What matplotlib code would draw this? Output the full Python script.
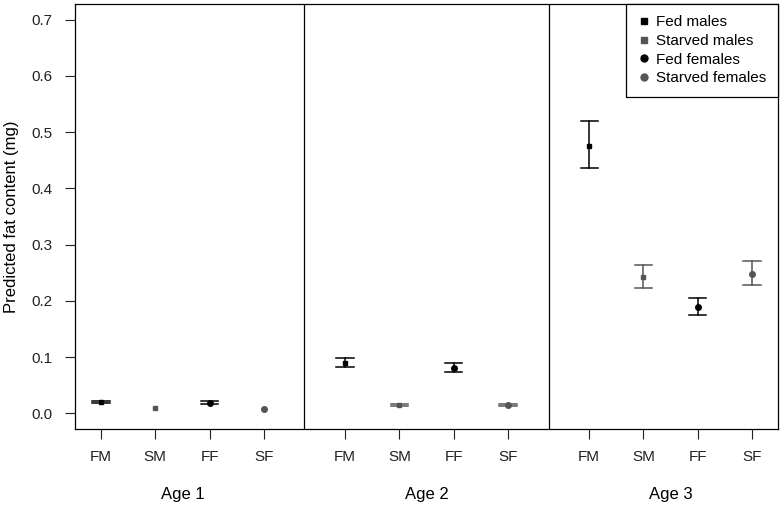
import matplotlib
matplotlib.use('Agg')
import matplotlib.pyplot as plt
from matplotlib.lines import Line2D

# data
ages = ['Age 1', 'Age 2', 'Age 3']
groups = ['FM', 'SM', 'FF', 'SF']
group_names = ['Fed males', 'Starved males', 'Fed females', 'Starved females']

fm_mean = [0.020, 0.090, 0.476]
fm_low = [0.018, 0.083, 0.436]
fm_high = [0.022, 0.099, 0.519]

sm_mean = [0.009, 0.015, 0.242]
sm_low = [0.009, 0.013, 0.222]
sm_high = [0.009, 0.017, 0.264]

ff_mean = [0.019, 0.081, 0.189]
ff_low = [0.017, 0.073, 0.174]
ff_high = [0.021, 0.089, 0.205]

sf_mean = [0.007, 0.015, 0.248]
sf_low = [0.007, 0.013, 0.228]
sf_high = [0.007, 0.017, 0.270]

plt.rcParams['font.family'] = ['Liberation Sans', 'DejaVu Sans']

BLACK = '#000000'
GREY = '#555555'
styles = [('s', BLACK), ('s', GREY), ('o', BLACK), ('o', GREY)]
series = [(fm_mean, fm_low, fm_high), (sm_mean, sm_low, sm_high),
          (ff_mean, ff_low, ff_high), (sf_mean, sf_low, sf_high)]

fig = plt.figure(figsize=(7.82, 5.07), dpi=100)
ax = fig.add_axes([75 / 782, 78 / 507, 703 / 782, 425 / 507])

# x positions: 4 groups per age, gap of 1.5 between ages
offsets = [1, 5.5, 10]
xpos_all = []
cap = 0.16
for a, off in enumerate(offsets):
    for g in range(4):
        x = off + g
        xpos_all.append(x)
        mean, low, high = series[g]
        marker, col = styles[g]
        if high[a] > low[a]:
            ax.plot([x, x], [low[a], high[a]], color=col, lw=1.1, zorder=2)
            ax.plot([x - cap, x + cap], [low[a], low[a]], color=col, lw=1.1, zorder=2)
            ax.plot([x - cap, x + cap], [high[a], high[a]], color=col, lw=1.1, zorder=2)
        ax.plot(x, mean[a], marker=marker, color=col, ms=4 if marker == 'o' else 3.3,
                ls='none', zorder=3)

ax.set_xlim(0.52, 13.48)
ax.set_ylim(-0.028, 0.728)
ax.axvline(4.75, color='black', lw=0.9)
ax.axvline(9.25, color='black', lw=0.9)

ax.set_xticks(xpos_all)
ax.set_xticklabels(groups * 3)
ax.set_yticks([0.0, 0.1, 0.2, 0.3, 0.4, 0.5, 0.6, 0.7])
ax.set_yticklabels(['0.0', '0.1', '0.2', '0.3', '0.4', '0.5', '0.6', '0.7'])
ax.tick_params(direction='out', length=7, width=0.8, labelsize=11, colors='#222222')
ax.tick_params(axis='x', pad=8)
ax.tick_params(axis='y', pad=9)
for sp in ax.spines.values():
    sp.set_linewidth(0.9)

ax.set_ylabel('Predicted fat content (mg)', fontsize=12, labelpad=9)

for a, off in enumerate(offsets):
    ax.text(off + 1.5, -0.144, ages[a], ha='center', va='center', fontsize=12,
            transform=ax.transData, clip_on=False)

handles = [Line2D([], [], marker=m, color=c, ls='none', ms=5 if m == 'o' else 4.5)
           for m, c in styles]
leg = ax.legend(handles, group_names, loc='upper right', fontsize=11,
                frameon=True, fancybox=False, edgecolor='black', framealpha=1,
                borderaxespad=0, handletextpad=0.35, labelspacing=0.3,
                handlelength=0.9, borderpad=0.75)
leg.get_frame().set_linewidth(0.9)

fig.savefig('out.png', dpi=100)
